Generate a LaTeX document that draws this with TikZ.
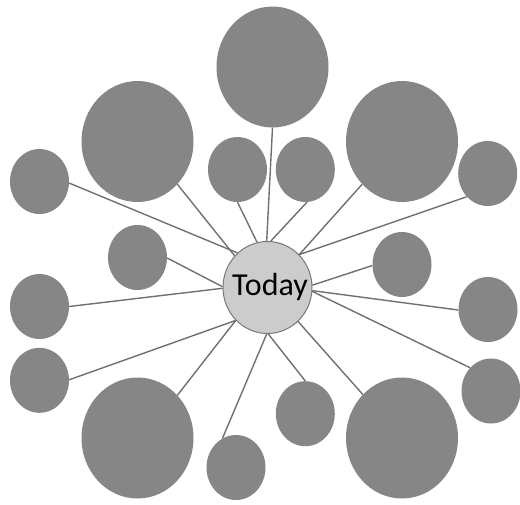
\documentclass[tikz,border=0pt]{standalone}
\usepackage{fontspec}
\setmainfont{Carlito}
\usetikzlibrary{shapes.geometric}
\definecolor{bubble}{RGB}{134,134,134}
\definecolor{hubfill}{RGB}{204,204,204}
\definecolor{hubline}{RGB}{120,120,120}
\definecolor{linkcol}{RGB}{112,112,112}
\tikzset{
  bub/.style={ellipse, fill=bubble, draw=none, inner sep=0pt},
  bigbub/.style={bub, minimum width=112pt, minimum height=121pt},
  smallbub/.style={bub, minimum width=59pt, minimum height=65pt},
  hub/.style={ellipse, fill=hubfill, draw=hubline, line width=1pt, inner sep=0pt,
    minimum width=89pt, minimum height=92pt, text height=22pt, text depth=7pt,
    font=\fontsize{32}{34}\selectfont},
  link/.style={draw=linkcol, line width=1.4pt}
}
\begin{document}
\begin{tikzpicture}[x=1pt,y=-1pt]
\useasboundingbox (0,0) rectangle (520,504);
\node[hub] (today) at (267.5,287.5) {\makebox[0pt]{\hspace*{5pt}Today}};
\node[bigbub] (top) at (272.5,67) {};
\node[bigbub] (ulbig) at (137.5,141.5) {};
\node[bigbub] (urbig) at (402,141.5) {};
\node[bigbub] (llbig) at (137.5,438) {};
\node[bigbub] (lrbig) at (402,438) {};
\node[smallbub] (uml) at (237.5,169.5) {};
\node[smallbub] (umr) at (305.3,169.5) {};
\node[smallbub] (lt) at (39.5,181.5) {};
\node[smallbub] (rt) at (487.7,173.5) {};
\node[smallbub] (lm) at (137.5,257.5) {};
\node[smallbub] (rm) at (402,264.5) {};
\node[smallbub] (l) at (39.5,306.5) {};
\node[smallbub] (r) at (488,309.5) {};
\node[smallbub] (ll) at (39.5,380.3) {};
\node[smallbub] (rl) at (491,391) {};
\node[smallbub] (bs) at (236,467.5) {};
\node[smallbub] (bmr) at (305.3,413.7) {};
\draw[link] (today.91) -- (top.-90);
\draw[link] (today.136) -- (ulbig.-47);
\draw[link] (today.131) -- (lt.-3);
\draw[link] (today.103) -- (uml.-90);
\draw[link] (today.86) -- (umr.-87);
\draw[link] (today.46) -- (urbig.227);
\draw[link] (today.46) -- (rt.228);
\draw[link] (today.179) -- (lm.-1);
\draw[link] (today.181) -- (l.0);
\draw[link] (today.226) -- (ll.1);
\draw[link] (today.226) -- (llbig.47);
\draw[link] (today.269) -- (bs.115);
\draw[link] (today.3) -- (rm.182);
\draw[link] (today.356) -- (r.181);
\draw[link] (today.355) -- (rl.132);
\draw[link] (today.312) -- (lrbig.132);
\draw[link] (today.271) -- (bmr.90);
\end{tikzpicture}
\end{document}
